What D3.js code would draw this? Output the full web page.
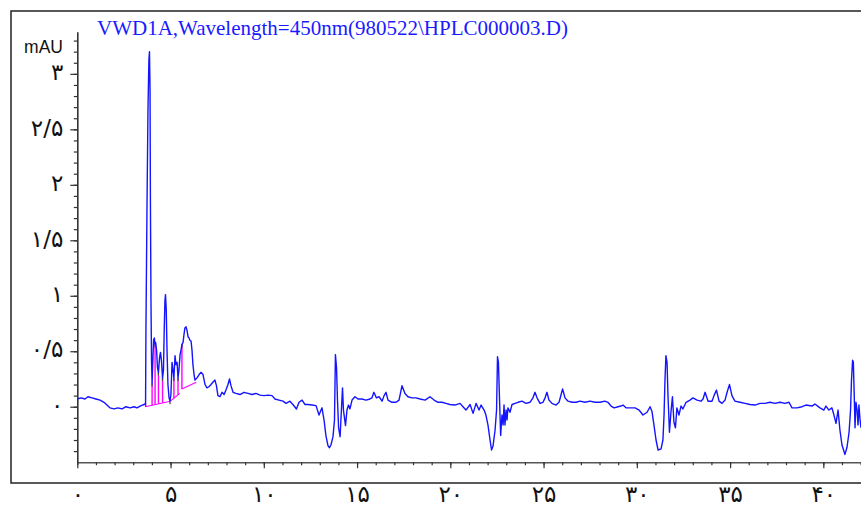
<!DOCTYPE html>
<html>
<head>
<meta charset="utf-8">
<script src="https://cdn.jsdelivr.net/npm/d3@7"></script>
<style>
  body { margin: 0; background: #fff; }
  svg { display: block; }
</style>
</head>
<body>
<svg id="chart" width="861" height="507"></svg>
<script>
// Detector trace: [retention time (min), absorbance (mAU)]
const trace = [
  [0.00,0.07],[0.20,0.08],[0.41,0.07],[0.57,0.09],[0.79,0.08],[1.00,0.07],[1.22,0.06],[1.43,0.04],
  [1.59,0.015],[1.75,-0.01],[1.97,-0.02],[2.18,-0.01],[2.40,-0.02],[2.61,0.00],[2.83,-0.01],[3.04,0.00],
  [3.20,-0.01],[3.42,0.01],[3.58,0.02],[3.66,0.03],
  [3.68,0.69],[3.74,1.86],[3.79,2.68],[3.84,3.13],[3.87,3.20],[3.90,2.86],[3.92,1.86],[3.95,0.96],
  [3.98,0.42],[4.01,0.21],[4.05,0.42],[4.09,0.60],[4.13,0.62],[4.17,0.56],[4.20,0.58],[4.25,0.51],
  [4.30,0.35],[4.35,0.31],[4.41,0.44],[4.46,0.49],[4.51,0.42],[4.57,0.26],[4.62,0.33],[4.66,0.69],
  [4.70,0.96],[4.73,1.01],[4.77,0.87],[4.81,0.51],[4.86,0.20],[4.92,0.08],[4.97,0.05],[5.02,0.11],
  [5.08,0.40],[5.13,0.33],[5.18,0.26],[5.24,0.46],[5.29,0.38],[5.35,0.40],[5.40,0.26],[5.45,0.33],
  [5.51,0.47],[5.56,0.51],[5.61,0.56],[5.67,0.58],[5.72,0.65],[5.77,0.71],[5.83,0.72],[5.88,0.69],
  [5.94,0.63],[5.99,0.62],[6.04,0.60],[6.10,0.59],[6.15,0.51],[6.20,0.38],[6.26,0.29],[6.31,0.24],
  [6.42,0.26],[6.53,0.29],[6.63,0.31],[6.74,0.29],[6.85,0.20],[6.95,0.17],[7.06,0.18],[7.17,0.20],
  [7.27,0.22],[7.38,0.24],[7.46,0.19],[7.54,0.10],[7.65,0.09],[7.76,0.13],[7.87,0.11],[7.97,0.15],
  [8.08,0.20],[8.16,0.25],[8.24,0.19],[8.35,0.13],[8.51,0.12],[8.72,0.11],[8.94,0.13],[9.15,0.12],
  [9.37,0.11],[9.58,0.12],[9.80,0.105],[10.01,0.10],[10.22,0.105],[10.44,0.10],[10.60,0.07],[10.81,0.06],
  [11.03,0.05],[11.19,0.03],[11.40,0.05],[11.56,0.02],[11.75,-0.02],[11.89,0.04],[12.05,0.06],[12.21,0.02],
  [12.37,0.02],[12.59,0.015],[12.80,0.01],[12.96,-0.075],[13.12,-0.01],[13.23,-0.12],[13.33,-0.26],[13.44,-0.35],
  [13.52,-0.37],[13.60,-0.345],[13.71,-0.27],[13.79,-0.12],[13.84,0.47],[13.90,0.35],[13.95,0.06],[14.01,-0.19],
  [14.09,-0.27],[14.14,-0.10],[14.22,0.17],[14.27,-0.03],[14.38,-0.17],[14.46,-0.03],[14.54,0.015],[14.62,-0.02],
  [14.73,0.06],[14.89,0.09],[15.05,0.07],[15.26,0.07],[15.48,0.06],[15.69,0.07],[15.80,0.08],[15.90,0.13],
  [16.04,0.08],[16.18,0.09],[16.34,0.05],[16.45,0.10],[16.55,0.13],[16.66,0.06],[16.87,0.04],[17.09,0.04],
  [17.25,0.06],[17.41,0.19],[17.57,0.12],[17.73,0.09],[17.95,0.08],[18.16,0.08],[18.38,0.07],[18.65,0.06],
  [18.91,0.09],[19.13,0.06],[19.34,0.04],[19.55,0.04],[19.77,0.03],[19.98,0.02],[20.25,0.015],[20.52,0.03],
  [20.68,0.00],[20.84,-0.03],[21.06,0.02],[21.22,-0.06],[21.38,0.03],[21.54,-0.03],[21.65,0.015],[21.81,-0.03],
  [21.91,-0.075],[22.02,-0.165],[22.13,-0.30],[22.21,-0.39],[22.29,-0.355],[22.40,-0.21],[22.48,-0.03],[22.53,0.45],
  [22.58,0.40],[22.64,0.06],[22.70,-0.26],[22.77,-0.075],[22.83,-0.165],[22.88,0.015],[22.93,-0.165],[22.99,-0.03],
  [23.04,-0.12],[23.09,-0.01],[23.20,-0.05],[23.31,0.02],[23.47,0.03],[23.63,0.04],[23.84,0.05],[24.06,0.03],
  [24.27,0.04],[24.43,0.08],[24.54,0.13],[24.65,0.08],[24.81,0.03],[24.97,0.04],[25.08,0.08],[25.18,0.13],
  [25.29,0.06],[25.45,0.03],[25.67,0.015],[25.83,0.04],[26.02,0.16],[26.15,0.08],[26.31,0.05],[26.53,0.04],
  [26.74,0.04],[26.96,0.05],[27.22,0.04],[27.49,0.05],[27.76,0.04],[28.03,0.04],[28.29,0.05],[28.45,0.04],
  [28.62,0.006],[28.78,-0.01],[28.99,0.00],[29.15,0.006],[29.26,0.015],[29.42,-0.01],[29.64,-0.01],[29.91,-0.01],
  [30.12,-0.03],[30.33,-0.075],[30.55,-0.05],[30.71,0.00],[30.81,-0.04],[30.92,-0.165],[31.03,-0.30],[31.14,-0.39],
  [31.30,-0.38],[31.40,-0.30],[31.46,-0.075],[31.51,0.24],[31.56,0.46],[31.62,0.40],[31.67,0.105],[31.75,-0.23],
  [31.83,-0.05],[31.91,0.09],[31.99,-0.14],[32.07,-0.19],[32.15,-0.01],[32.26,-0.075],[32.37,0.006],[32.47,-0.02],
  [32.64,0.04],[32.85,0.06],[33.01,0.08],[33.23,0.06],[33.44,0.05],[33.55,0.07],[33.66,0.13],[33.82,0.05],
  [34.03,0.05],[34.14,0.10],[34.27,0.15],[34.41,0.05],[34.57,0.03],[34.73,0.06],[34.84,0.13],[34.97,0.20],
  [35.10,0.10],[35.26,0.05],[35.53,0.04],[35.80,0.03],[36.07,0.02],[36.34,0.015],[36.60,0.03],[36.87,0.03],
  [37.14,0.04],[37.41,0.03],[37.68,0.04],[37.94,0.03],[38.16,0.04],[38.32,-0.01],[38.59,-0.01],[38.86,0.00],
  [39.07,0.015],[39.39,0.006],[39.55,0.024],[39.82,-0.01],[40.03,-0.03],[40.14,0.006],[40.30,-0.03],[40.46,-0.01],
  [40.57,-0.075],[40.68,-0.15],[40.79,-0.03],[40.89,-0.21],[41.00,-0.345],[41.16,-0.43],[41.27,-0.365],[41.38,-0.23],
  [41.46,-0.03],[41.51,0.24],[41.57,0.42],[41.61,0.40],[41.65,0.15],[41.70,-0.19],[41.75,0.04],[41.81,-0.03],
  [41.86,-0.165],[41.91,0.015],[41.97,-0.12],[42.02,-0.19]
];

// Integration baselines drawn by the data system: [[t0, v0], [t1, v1]]
const integrationBaselines = [
  [[3.64, 0.00], [4.99, 0.05]],
  [[4.99, 0.05], [5.50, 0.12]],
  [[5.60, 0.16], [6.38, 0.22]]
];

// Peak start/end times where drop lines are drawn
const peakBoundaries = [3.66, 4.01, 4.17, 4.35, 4.57, 4.97, 5.18, 5.40, 5.61];

// Axis ticks and labels (Persian numerals)
const xMajorTicks = [0, 5, 10, 15, 20, 25, 30, 35, 40];
const xTickLabels = ["۰", "۵", "۱۰", "۱۵", "۲۰", "۲۵", "۳۰", "۳۵", "۴۰"];
const yMajorTicks = [0, 0.5, 1, 1.5, 2, 2.5, 3];
const yTickLabels = ["۰", "۰/۵", "۱", "۱/۵", "۲", "۲/۵", "۳"];

const titleText = "VWD1A,Wavelength=450nm(980522\\HPLC000003.D)";
const unitText = "mAU";

const svg = d3.select("#chart");

const x = d3.scaleLinear().domain([0, 42.02]).range([77.3, 861]);
const y = d3.scaleLinear().domain([-0.5, 3.38]).range([462.2, 31.7]);

// Outer frame (runs off the right edge)
svg.append("rect")
  .attr("x", 11).attr("y", 11)
  .attr("width", 880).attr("height", 472)
  .attr("fill", "none")
  .attr("stroke", "#222")
  .attr("stroke-width", 1.5);

// Title
svg.append("text")
  .attr("x", 97).attr("y", 35)
  .attr("font-family", "'Liberation Serif', 'Times New Roman', serif")
  .attr("font-size", 21)
  .attr("fill", "#1a1aff")
  .text(titleText);

// Unit label
svg.append("text")
  .attr("x", 63).attr("y", 52.5)
  .attr("text-anchor", "end")
  .attr("font-family", "'Liberation Sans', Arial, sans-serif")
  .attr("font-size", 17.5)
  .attr("fill", "#111")
  .text(unitText);

const axisColor = "#333";
const labelFont = "'DejaVu Sans', sans-serif";

// Y axis: minor ticks every 0.1
const yMinor = d3.range(-4, 34).map(i => i / 10);
const gyMinor = svg.append("g")
  .attr("transform", "translate(77.3,0)")
  .call(d3.axisLeft(y).tickValues(yMinor).tickSize(3.5).tickSizeOuter(0).tickFormat(""));
gyMinor.select(".domain").attr("stroke", axisColor).attr("stroke-width", 1.6);
gyMinor.selectAll(".tick line").attr("stroke", axisColor).attr("stroke-width", 1.2);

// Y axis: labelled major ticks
const gyMajor = svg.append("g")
  .attr("transform", "translate(77.3,0)")
  .call(d3.axisLeft(y).tickValues(yMajorTicks).tickSize(7).tickPadding(7)
    .tickFormat((d, i) => yTickLabels[i]));
gyMajor.select(".domain").remove();
gyMajor.selectAll(".tick line").attr("stroke", axisColor).attr("stroke-width", 1.2);
gyMajor.selectAll(".tick text")
  .attr("font-family", labelFont)
  .attr("font-size", 23)
  .attr("fill", "#111")
  .attr("dy", "0.25em");

// X axis: minor ticks every minute
const xMinor = d3.range(0, 43);
const gxMinor = svg.append("g")
  .attr("transform", "translate(0,462.2)")
  .call(d3.axisBottom(x).tickValues(xMinor).tickSize(3).tickSizeOuter(0).tickFormat(""));
gxMinor.select(".domain").attr("stroke", "#555").attr("stroke-width", 1.6);
gxMinor.selectAll(".tick line").attr("stroke", axisColor).attr("stroke-width", 1.2);

// X axis: labelled major ticks
const gxMajor = svg.append("g")
  .attr("transform", "translate(0,462.2)")
  .call(d3.axisBottom(x).tickValues(xMajorTicks).tickSize(6)
    .tickFormat((d, i) => xTickLabels[i]));
gxMajor.select(".domain").remove();
gxMajor.selectAll(".tick line").attr("stroke", axisColor).attr("stroke-width", 1.2);
gxMajor.selectAll(".tick text")
  .attr("font-family", labelFont)
  .attr("font-size", 23)
  .attr("fill", "#111")
  .attr("y", 40)
  .attr("dy", 0);

// Signal interpolation helpers
const bisect = d3.bisector(d => d[0]).left;
function signalAt(t) {
  const i = Math.max(1, Math.min(trace.length - 1, bisect(trace, t)));
  const a = trace[i - 1], b = trace[i];
  const k = (t - a[0]) / (b[0] - a[0]);
  return a[1] + k * (b[1] - a[1]);
}
function baselineAt(t) {
  let best = integrationBaselines[0], dist = Infinity;
  for (const seg of integrationBaselines) {
    const [p, q] = seg;
    const dd = t < p[0] ? p[0] - t : (t > q[0] ? t - q[0] : 0);
    if (dd < dist) { dist = dd; best = seg; }
  }
  const [p, q] = best;
  const k = Math.max(0, Math.min(1, (t - p[0]) / (q[0] - p[0])));
  return p[1] + k * (q[1] - p[1]);
}

// Integration baselines and drop lines
const integ = svg.append("g");
integ.selectAll("line.base")
  .data(integrationBaselines)
  .join("line")
  .attr("class", "base")
  .attr("x1", d => x(d[0][0])).attr("y1", d => y(d[0][1]))
  .attr("x2", d => x(d[1][0])).attr("y2", d => y(d[1][1]))
  .attr("stroke", "#ff00ff")
  .attr("stroke-width", 1.1);

integ.selectAll("line.drop")
  .data(peakBoundaries)
  .join("line")
  .attr("class", "drop")
  .attr("x1", d => x(d)).attr("x2", d => x(d))
  .attr("y1", d => y(baselineAt(d)))
  .attr("y2", d => y(signalAt(d)))
  .attr("stroke", "#ff00ff")
  .attr("stroke-width", 1.4);

// Chromatogram trace
const line = d3.line().x(d => x(d[0])).y(d => y(d[1]));
svg.append("path")
  .datum(trace)
  .attr("d", line)
  .attr("fill", "none")
  .attr("stroke", "#1414ff")
  .attr("stroke-width", 1.4)
  .attr("stroke-linejoin", "round");

// Peak boundary markers
integ.selectAll("line.mark")
  .data(peakBoundaries)
  .join("line")
  .attr("class", "mark")
  .attr("x1", d => x(d)).attr("x2", d => x(d))
  .attr("y1", d => y(signalAt(d)))
  .attr("y2", d => y(signalAt(d)) + 3)
  .attr("stroke", "#444")
  .attr("stroke-width", 1.2);
</script>
</body>
</html>
